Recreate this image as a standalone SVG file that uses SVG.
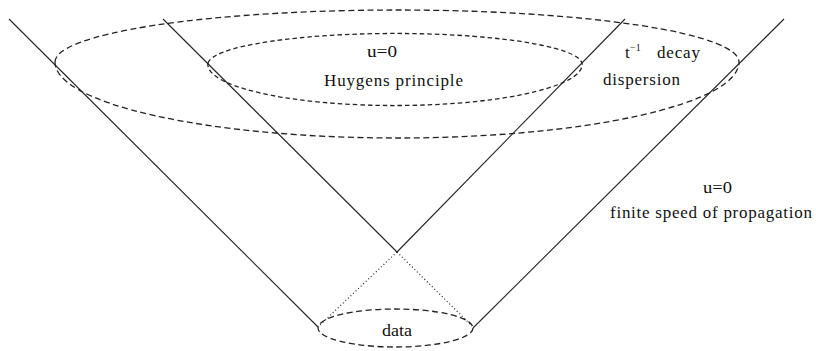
<svg xmlns="http://www.w3.org/2000/svg" width="816" height="351" viewBox="0 0 816 351">
<style>
.ln{stroke:#222;stroke-width:1.1;fill:none}
.dot{stroke:#222;stroke-width:1.2;fill:none;stroke-dasharray:1 2.5}
.d1{stroke:#222;stroke-width:1.3;fill:none;stroke-dasharray:6 3.5}
.d2{stroke:#222;stroke-width:1.3;fill:none;stroke-dasharray:4.5 3}
text{font-family:'Liberation Serif','DejaVu Serif',serif;font-size:17px;fill:#111}
</style>
<rect width="816" height="351" fill="#fff"/>
<g id="connectors">
<line class="ln" x1="9" y1="19" x2="318" y2="327"/>
<line class="ln" x1="784" y1="19" x2="473" y2="328"/>
<line class="ln" x1="163" y1="19" x2="397" y2="252"/>
<line class="ln" x1="625" y1="19" x2="397" y2="252"/>
<line class="dot" x1="397" y1="252" x2="320" y2="325"/>
<line class="dot" x1="397" y1="252" x2="472" y2="326"/>
</g>
<g id="outer-region">
<path class="d1" d="M55,62 A342,52 0 0 1 739,62 A342,76 0 0 1 55,62 Z"/>
</g>
<g id="inner-region">
<path class="d2" d="M208,63 A187,31 0 0 1 582,66 A187,41 0 0 1 208,63 Z"/>
</g>
<g id="data">
<ellipse class="d1" cx="395.5" cy="328" rx="77.5" ry="19"/>
<text x="382" y="336" textLength="30" lengthAdjust="spacingAndGlyphs">data</text>
</g>
<g id="labels">
<text x="367" y="57" textLength="30" lengthAdjust="spacingAndGlyphs">u=0</text>
<text x="324" y="86" textLength="139" lengthAdjust="spacing">Huygens principle</text>
<text x="625" y="58">t</text>
<text x="630" y="51" style="font-size:10px">−1</text>
<text x="657" y="58" textLength="43" lengthAdjust="spacing">decay</text>
<text x="603" y="85" textLength="77" lengthAdjust="spacing">dispersion</text>
<text x="703" y="193" textLength="29" lengthAdjust="spacingAndGlyphs">u=0</text>
<text x="610" y="218" textLength="202" lengthAdjust="spacing">finite speed of propagation</text>
</g>
</svg>
